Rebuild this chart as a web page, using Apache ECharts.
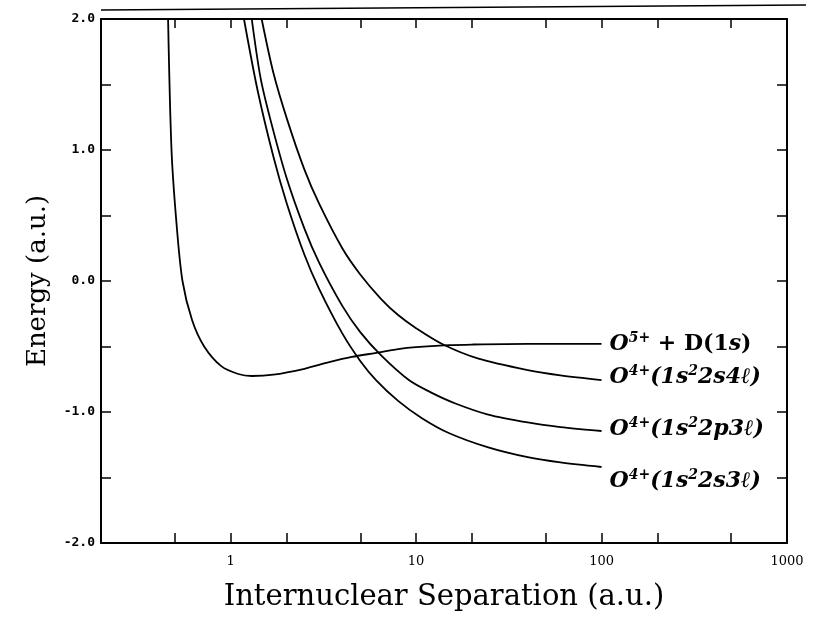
<!DOCTYPE html>
<html>
<head>
<meta charset="utf-8">
<script src="https://cdn.jsdelivr.net/npm/echarts@6/dist/echarts.min.js"></script>
<style>
  html, body { margin: 0; padding: 0; background: #fff; }
  #main { width: 814px; height: 619px; }
</style>
</head>
<body>
<div id="main"></div>
<script>
// x: internuclear separation R (a.u.), y: energy (a.u.)
var xTicks = [0.5, 1, 2, 5, 10, 20, 50, 100, 200, 500, 1000];
var xLabels = [1, 10, 100, 1000];
var yLabels = [-2, -1, 0, 1, 2];

// O5+ + D(1s)
var rA = [0.46, 0.48, 0.51, 0.55, 0.62, 0.72, 0.89, 1.1, 1.3, 1.7, 2.5, 3.4, 4.5, 6, 8, 10, 15, 20, 40, 100];
var eA = [2.0, 1.0, 0.45, 0.0, -0.3, -0.5, -0.65, -0.71, -0.725, -0.715, -0.67, -0.62, -0.58, -0.55, -0.52, -0.505, -0.49, -0.485, -0.48, -0.48];
// O4+(1s2 2s4l)
var rS4 = [1.47, 1.7, 2.02, 2.5, 3, 4, 5, 6.5, 8, 10, 14, 21.7, 40, 60, 100];
var eS4 = [2.0, 1.59, 1.23, 0.85, 0.59, 0.25, 0.05, -0.14, -0.26, -0.36, -0.485, -0.593, -0.68, -0.72, -0.756];
// O4+(1s2 2p3l)
var rP3 = [1.3, 1.45, 1.64, 2, 2.5, 3, 4, 5, 6.5, 9.14, 12, 16.3, 24.5, 40, 60, 100];
var eP3 = [2.0, 1.55, 1.23, 0.79, 0.4, 0.14, -0.19, -0.39, -0.57, -0.756, -0.85, -0.935, -1.02, -1.08, -1.115, -1.145];
// O4+(1s2 2s3l)
var rS3 = [1.18, 1.4, 1.7, 2, 2.5, 3, 4, 5, 6.08, 8, 10.7, 15, 24.5, 40, 60, 100];
var eS3 = [2.0, 1.45, 0.95, 0.6, 0.2, -0.06, -0.4, -0.61, -0.756, -0.915, -1.045, -1.16, -1.27, -1.345, -1.385, -1.42];

function pairs(r, e) {
    return r.map(function (v, i) { return [v, e[i]]; });
}

var labelRich = {
    it: { fontFamily: 'DejaVu Serif', fontStyle: 'italic', fontWeight: 'bold', fontSize: 22, color: '#000' },
    rm: { fontFamily: 'DejaVu Serif', fontWeight: 'bold', fontSize: 22, color: '#000' },
    sup: { fontFamily: 'DejaVu Serif', fontStyle: 'italic', fontWeight: 'bold', fontSize: 14, color: '#000', padding: [0, 0, 12, 0] }
};

function curve(name, data, label, offsetY) {
    return {
        name: name,
        type: 'line',
        data: data,
        smooth: 0.3,
        showSymbol: false,
        lineStyle: { color: '#000', width: 1.8 },
        endLabel: {
            show: true,
            formatter: label,
            distance: 8,
            offset: [0, offsetY],
            rich: labelRich
        }
    };
}

var myChart = echarts.init(document.getElementById('main'));
var axisLine = { show: true, onZero: false, lineStyle: { color: '#000', width: 2 } };
var option = {
    backgroundColor: '#fff',
    animation: false,
    grid: { left: 101, right: 27, top: 19, bottom: 76, outerBoundsMode: 'none', containLabel: false },
    xAxis: [{
        type: 'log',
        min: 0.2,
        max: 1000,
        logBase: 10,
        axisLine: axisLine,
        axisTick: { inside: true, length: 10, customValues: xTicks, lineStyle: { color: '#000', width: 1.5 } },
        axisLabel: {
            customValues: xLabels,
            formatter: function (v) { return String(v); },
            color: '#000', fontFamily: 'DejaVu Serif', fontSize: 13, margin: 12
        },
        splitLine: { show: false },
        name: 'Internuclear Separation (a.u.)',
        nameLocation: 'middle',
        nameGap: 40,
        nameTextStyle: { color: '#000', fontFamily: 'DejaVu Serif', fontSize: 29 }
    }, {
        type: 'log',
        position: 'top',
        min: 0.2,
        max: 1000,
        logBase: 10,
        axisLine: axisLine,
        axisTick: { inside: true, length: 9, customValues: xTicks, lineStyle: { color: '#000', width: 1.5 } },
        axisLabel: { show: false },
        splitLine: { show: false }
    }],
    yAxis: [{
        type: 'value',
        min: -2,
        max: 2,
        interval: 0.5,
        axisLine: axisLine,
        axisTick: { inside: true, length: 10, lineStyle: { color: '#000', width: 1.5 } },
        axisLabel: {
            customValues: yLabels,
            formatter: function (v) { return v.toFixed(1); },
            color: '#000', fontFamily: 'DejaVu Sans Mono', fontWeight: 'bold', fontSize: 13, margin: 6
        },
        splitLine: { show: false },
        name: 'Energy (a.u.)',
        nameLocation: 'middle',
        nameGap: 50,
        nameTextStyle: { color: '#000', fontFamily: 'DejaVu Serif', fontSize: 26 }
    }, {
        type: 'value',
        position: 'right',
        min: -2,
        max: 2,
        interval: 0.5,
        axisLine: axisLine,
        axisTick: { inside: true, length: 10, lineStyle: { color: '#000', width: 1.5 } },
        axisLabel: { show: false },
        splitLine: { show: false }
    }],
    graphic: [{
        // scanned outer frame edge above the plot
        type: 'line',
        shape: { x1: 101, y1: 10, x2: 806, y2: 5 },
        style: { stroke: '#000', lineWidth: 1.5 }
    }],
    series: [
        curve('A', pairs(rA, eA), '{it|O}{sup|5+}{rm| + D(1}{it|s}{rm|)}', 0),
        curve('S4', pairs(rS4, eS4), '{it|O}{sup|4+}{it|(1s}{sup|2}{it|2s4ℓ)}', -3),
        curve('P3', pairs(rP3, eP3), '{it|O}{sup|4+}{it|(1s}{sup|2}{it|2p3ℓ)}', -2),
        curve('S3', pairs(rS3, eS3), '{it|O}{sup|4+}{it|(1s}{sup|2}{it|2s3ℓ)}', 14)
    ]
};
myChart.setOption(option);
</script>
</body>
</html>
